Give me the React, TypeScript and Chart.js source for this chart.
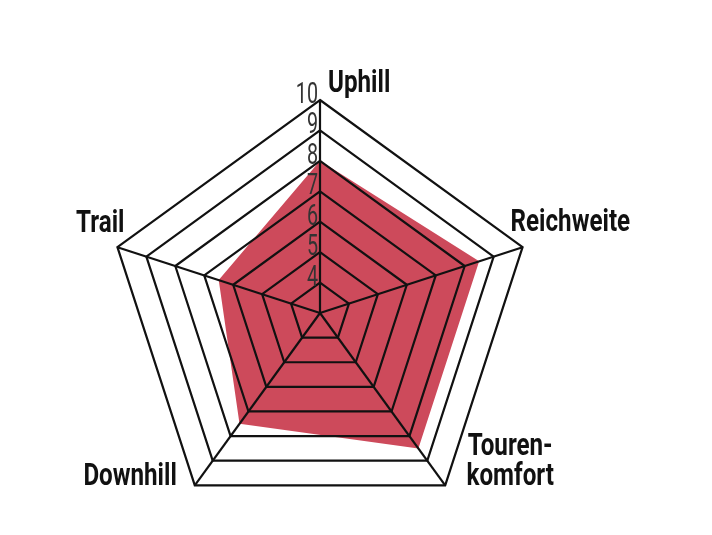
import { useEffect, useRef } from "react";
import { Chart, registerables, type Chart as ChartType } from "chart.js";

Chart.register(...registerables);

const AXES: (string | string[])[] = ["Uphill", "Reichweite", ["Touren-", "komfort"], "Downhill", "Trail"];
const SCORES = [8, 8.5, 8.5, 7.5, 6.5];
const SCALE_MIN = 3;
const SCALE_MAX = 10;
const TICK_LABELS = ["4", "5", "6", "7", "8", "9", "10"];

// where each axis title sits relative to its outer vertex
const LABEL_POS = [
  { dx: 8, dy: -8, align: "left" },
  { dx: -12, dy: -16, align: "left" },
  { dx: 65, dy: -30, align: "center" },
  { dx: -18, dy: 0, align: "right" },
  { dx: 7, dy: -15, align: "right" },
] as const;

// no condensed faces installed, so squeeze a regular one horizontally
function squeezedText(ctx: CanvasRenderingContext2D, s: string, x: number, y: number, sx: number) {
  ctx.save();
  ctx.translate(x, y);
  ctx.scale(sx, 1);
  ctx.fillText(s, 0, 0);
  ctx.restore();
}

const overlay = {
  id: "radarOverlay",
  afterDraw: (c: ChartType) => {
    const scale: any = (c as any).scales.r;
    if (!scale) return;
    const ctx = c.ctx;
    const cx = scale.xCenter;
    const cy = scale.yCenter;

    // tick numbers along the top axis
    ctx.save();
    ctx.fillStyle = "#333";
    ctx.textAlign = "right";
    ctx.textBaseline = "alphabetic";
    ctx.font = "29px Roboto, sans-serif";
    TICK_LABELS.forEach((t) => {
      const d = scale.getDistanceFromCenterForValue(Number(t));
      squeezedText(ctx, t, cx - 2, cy - d + 3, 0.68);
    });
    ctx.restore();

    // axis titles
    ctx.save();
    ctx.fillStyle = "#111";
    ctx.textBaseline = "alphabetic";
    ctx.font = "bold 31px Roboto, sans-serif";
    AXES.forEach((lab, i) => {
      const p = scale.getPointPosition(i, scale.drawingArea);
      const pos = LABEL_POS[i];
      const lines = Array.isArray(lab) ? lab : [lab];
      ctx.textAlign = pos.align;
      lines.forEach((ln, j) => {
        squeezedText(ctx, ln, p.x + pos.dx, p.y + pos.dy + j * 30, 0.78);
      });
    });
    ctx.restore();
  },
};

export default function App() {
  const canvasRef = useRef<HTMLCanvasElement | null>(null);

  useEffect(() => {
    const el = canvasRef.current;
    if (!el) return;
    const c = new Chart(el, {
      type: "radar",
      data: {
        labels: AXES,
        datasets: [
          {
            data: SCORES,
            backgroundColor: "#CD4A5B",
            borderWidth: 0,
            pointRadius: 0,
            fill: true,
            tension: 0,
          },
        ],
      },
      options: {
        responsive: true,
        maintainAspectRatio: false,
        animation: false,
        layout: { padding: { left: 107, top: 100, right: 178, bottom: 8 } },
        plugins: { legend: { display: false }, tooltip: { enabled: false } },
        scales: {
          r: {
            min: SCALE_MIN,
            max: SCALE_MAX,
            ticks: { stepSize: 1, display: false },
            pointLabels: { display: false },
            grid: { color: "#111", lineWidth: 2.2, z: 1 },
            angleLines: { color: "#111", lineWidth: 2.2 },
          },
        },
      },
      plugins: [overlay],
    });
    return () => c.destroy();
  }, []);

  return (
    <div style={{ position: "fixed", left: 0, top: 0, width: 712, height: 535, background: "#fff" }}>
      <canvas ref={canvasRef} />
    </div>
  );
}
